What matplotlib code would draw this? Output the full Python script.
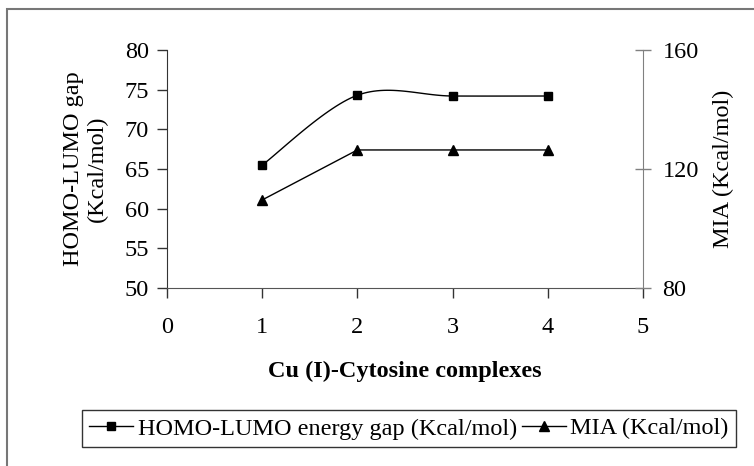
import numpy as np
import matplotlib.pyplot as plt
from matplotlib.patches import Rectangle
from matplotlib.lines import Line2D

plt.rcParams['font.family'] = ['Liberation Serif', 'DejaVu Serif']

complexes = [1, 2, 3, 4]
gap = [65.5, 74.3, 74.2, 74.2]      # HOMO-LUMO energy gap (Kcal/mol)
mia = [109.6, 126.4, 126.4, 126.4]  # MIA (Kcal/mol)

FS = 17.5


def smooth(xs, ys, n=30):  # excel-like smoothed line (bezier through the points)
    p = np.column_stack([xs, ys]).astype(float)
    out = [p[0]]
    for i in range(len(p) - 1):
        p0 = p[i - 1] if i > 0 else p[i]
        p3 = p[i + 2] if i + 2 < len(p) else p[i + 1]
        c1 = p[i] + (p[i + 1] - p0) / 6
        c2 = p[i + 1] - (p3 - p[i]) / 6
        t = np.linspace(0, 1, n)[1:, None]
        seg = ((1 - t)**3 * p[i] + 3 * (1 - t)**2 * t * c1
               + 3 * (1 - t) * t**2 * c2 + t**3 * p[i + 1])
        out.extend(seg)
    out = np.array(out)
    return out[:, 0], out[:, 1]


fig = plt.figure(figsize=(7.54, 4.66), dpi=100)
ax = fig.add_axes([167 / 754, 1 - 288 / 466, (643 - 167) / 754, (288 - 50) / 466])
ax2 = ax.twinx()

sx, sy = smooth(complexes, gap)
ax.plot(sx, sy, color='black', lw=1)
ax.plot(complexes, gap, ls='none', marker='s', ms=6, color='black')
ax2.plot(complexes, mia, color='black', lw=1, marker='^', ms=7)

ax.set_xlim(0, 5)
ax.set_ylim(50, 80)
ax2.set_ylim(80, 160)
ax.set_xticks(range(6))
ax.set_yticks(range(50, 81, 5))
ax2.set_yticks([80, 120, 160])

for a in (ax, ax2):
    a.spines['top'].set_visible(False)
ax.spines['right'].set_visible(False)
ax2.spines['left'].set_visible(False)
ax2.spines['bottom'].set_visible(False)
ax.spines['left'].set_color('#333333')
ax.spines['bottom'].set_color('#555555')
ax2.spines['right'].set_color('#808080')
ax.tick_params(axis='both', direction='out', length=7, width=1, color='#333333',
               labelsize=FS, pad=6)
ax.tick_params(axis='x', pad=14)
ax2.tick_params(axis='y', direction='inout', length=12, width=1, color='#808080',
                labelsize=FS, pad=8)

ax.set_xlabel('Cu (I)-Cytosine complexes', fontsize=FS, fontweight='bold', labelpad=16)
ax.set_ylabel('HOMO-LUMO gap\n(Kcal/mol)', fontsize=FS, labelpad=12, linespacing=1.15)
ax2.set_ylabel('MIA (Kcal/mol)', fontsize=FS, labelpad=10)

handles = [Line2D([], [], color='black', lw=1, marker='s', ms=6),
           Line2D([], [], color='black', lw=1, marker='^', ms=7)]
leg = fig.legend(handles, ['HOMO-LUMO energy gap (Kcal/mol)', 'MIA (Kcal/mol)'],
                 loc='center', bbox_to_anchor=(409 / 754, 1 - 428.5 / 466), ncol=2,
                 fontsize=17.5, frameon=True, fancybox=False, handlelength=1.8,
                 handletextpad=0.2, columnspacing=0.2, borderpad=0.3)
leg.get_frame().set_edgecolor('black')
leg.get_frame().set_linewidth(1)

# outer chart border
fig.patches.append(Rectangle((7 / 754, -0.1), 1.2, 1.1 - 9.5 / 466,
                             transform=fig.transFigure, fill=False,
                             edgecolor='#777777', lw=1.5))

plt.savefig('out.png', dpi=100)
